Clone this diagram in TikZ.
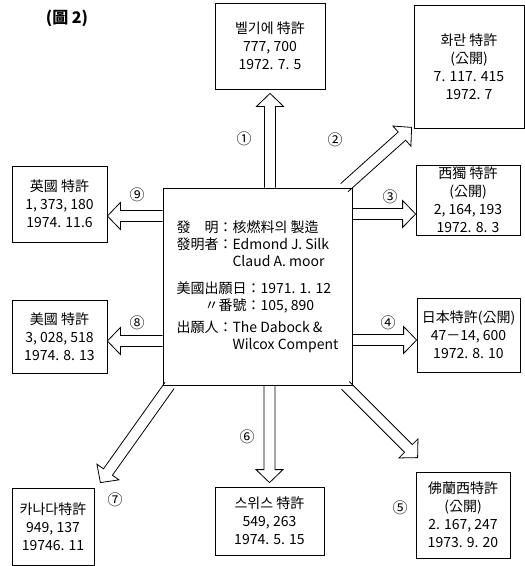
\documentclass[tikz,border=0pt]{standalone}
\usepackage{fontspec}
\setmainfont{Noto Sans CJK KR}
\usepackage{tikz}
\usetikzlibrary{calc,positioning}
\tikzset{
    patent/.style={
        rectangle,
        draw=black, line width=0.8pt,
        align=center,
        inner sep=2pt,
        font={\fontsize{14pt}{18pt}\selectfont}
    },
    invention/.style={
        rectangle,
        draw=black, line width=0.8pt,
        align=left,
        minimum width=189pt,
        minimum height=197pt,
        font={\fontsize{14pt}{17pt}\selectfont}
    },
    % outline of a block arrow from start to target
    hollow/.style={
        draw, line width=0.8pt, line join=miter,
        to path={
            ($(\tikztostart)!5.5pt!90:(\tikztotarget)$)
            -- ($(\tikztotarget)!13pt!(\tikztostart)!5.5pt!-90:(\tikztostart)$)
            -- ($(\tikztotarget)!13pt!(\tikztostart)!13.5pt!-90:(\tikztostart)$)
            -- (\tikztotarget)
            -- ($(\tikztotarget)!13pt!(\tikztostart)!13.5pt!90:(\tikztostart)$)
            -- ($(\tikztotarget)!13pt!(\tikztostart)!5.5pt!90:(\tikztostart)$)
            -- ($(\tikztostart)!5.5pt!-90:(\tikztotarget)$)
        }
    },
    circnum/.style={font={\fontsize{15pt}{15}\selectfont}},
}

\begin{document}
\begin{tikzpicture}[x=1pt,y=-1pt]
\useasboundingbox (0,0) rectangle (525,566);
% title
\node[font={\fontsize{16pt}{16}\selectfont\bfseries}] (title) at (67,18) {(圖 2)};
% invention in the middle
\node[invention] (inv) at (257.5,286.5) {%
發　明：核燃料의 製造\\
發明者：Edmond J. Silk\\
\phantom{發明者：}Claud A. moor\\[10pt]
美國出願日：1971. 1. 12\\
\phantom{美國}〃番號：105, 890\\[5pt]
出願人：The Dabock \&\\
\phantom{出願人：}Wilcox Compent};
% patents round it
\node[patent, minimum width=110pt, minimum height=86pt] (be) at (270,46)
    {벨기에 特許\\777, 700\\1972. 7. 5};
\node[patent, minimum width=110pt, minimum height=123pt] (nl) at (469,66.5)
    {화란 特許\\(公開)\\7. 117. 415\\1972. 7};
\node[patent, minimum width=104pt, minimum height=70pt] (de) at (468,200)
    {西獨 特許\\(公開)\\2, 164, 193\\1972. 8. 3};
\node[patent, minimum width=103pt, minimum height=74pt] (jp) at (468.5,335)
    {日本特許(公開)\\47－14, 600\\1972. 8. 10};
\node[patent, minimum width=94pt, minimum height=86pt] (fr) at (463,515)
    {佛蘭西特許\\(公開)\\2. 167, 247\\1973. 9. 20};
\node[patent, minimum width=109pt, minimum height=68pt] (ch) at (269.5,521)
    {스위스 特許\\549, 263\\1974. 5. 15};
\node[patent, minimum width=82pt, minimum height=77pt] (ca) at (53,526.5)
    {카나다特許\\949, 137\\19746. 11};
\node[patent, minimum width=95pt, minimum height=73pt] (us) at (59.5,336.5)
    {美國 特許\\3, 028, 518\\1974. 8. 13};
\node[patent, minimum width=95pt, minimum height=76pt] (uk) at (59.5,204)
    {英國 特許\\1, 373, 180\\1974. 11.6};
% arrow ends
\coordinate (s1) at (be.south |- inv.north);
\coordinate (e1) at ([yshift=-4pt]be.south);
\coordinate (s2) at ([xshift=-8pt]inv.north east);
\coordinate (e2) at ([shift={(-2pt,1pt)}]nl.south west);
\coordinate (e3) at ([yshift=-14pt]de.west);
\coordinate (s3) at (e3 -| inv.east);
\coordinate (e4) at ([yshift=-5pt]jp.west);
\coordinate (s4) at (e4 -| inv.east);
\coordinate (s5) at ([xshift=-7pt]inv.south east);
\coordinate (e5) at ([shift={(2pt,14pt)}]fr.north west);
\coordinate (s6) at (ch.north |- inv.south);
\coordinate (e6) at ([yshift=4pt]ch.north);
\coordinate (s7) at ([xshift=7pt]inv.south west);
\coordinate (e7) at ([shift={(6pt,5pt)}]ca.north east);
\coordinate (e8) at ([yshift=-4.5pt]us.east);
\coordinate (s8) at (e8 -| inv.west);
\coordinate (e9) at ([yshift=-12pt]uk.east);
\coordinate (s9) at (e9 -| inv.west);
% arrows
\foreach \i in {1,...,9}
    \draw[hollow] (s\i) to (e\i);
% numbers
\node[circnum] (n1) at (244,139) {①};
\node[circnum] (n2) at (335,140) {②};
\node[circnum] (n3) at (390,197) {③};
\node[circnum] (n4) at (388,323) {④};
\node[circnum] (n5) at (400,508) {⑤};
\node[circnum] (n6) at (247,437) {⑥};
\node[circnum] (n7) at (115,500) {⑦};
\node[circnum] (n8) at (137,323) {⑧};
\node[circnum] (n9) at (137,195) {⑨};
\end{tikzpicture}
\end{document}
